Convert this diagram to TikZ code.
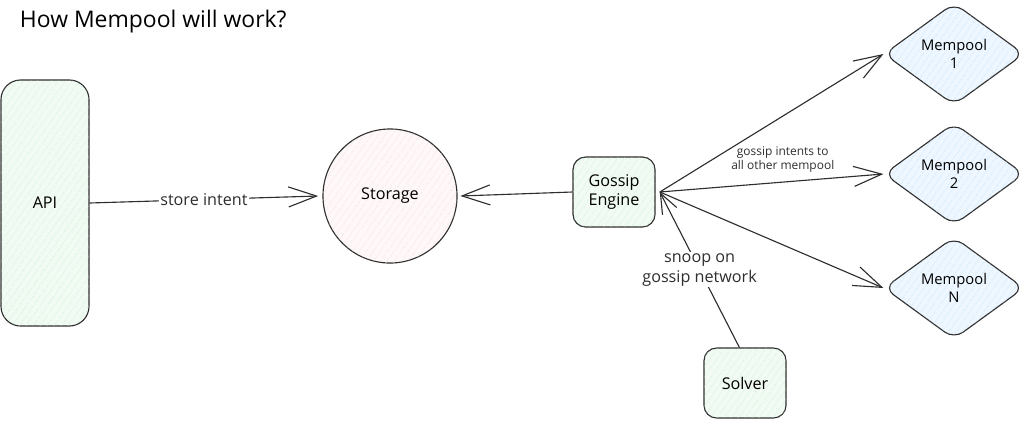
\documentclass[tikz,border=0pt]{standalone}
\usepackage{fontspec}
\setmainfont{Open Sans}
\usepackage{tikz}
\usetikzlibrary{arrows.meta, shapes.geometric, patterns.meta}
\definecolor{garis}{HTML}{2E2E2E}
\definecolor{hijaumuda}{HTML}{F1FBF3}
\definecolor{arsirhijau}{HTML}{C2ECCA}
\definecolor{merahmuda}{HTML}{FFF8F8}
\definecolor{arsirmerah}{HTML}{F3D6D6}
\definecolor{birumuda}{HTML}{EEF7FF}
\definecolor{arsirbiru}{HTML}{BADDF8}

\begin{document}
\begin{tikzpicture}[x=0.025cm, y=-0.025cm,
    font=\fontsize{11.5}{14}\selectfont,
    kotak/.style={draw=garis, line width=0.8pt, rounded corners=9pt, align=center,
                  fill=hijaumuda, minimum width=2.05cm, minimum height=1.75cm,
                  postaction={pattern={Lines[angle=55,distance=4pt,line width=0.4pt]}, pattern color=arsirhijau}},
    bulat/.style={draw=garis, line width=0.8pt, circle, minimum size=3.35cm, fill=merahmuda,
                  postaction={pattern={Lines[angle=55,distance=4pt,line width=0.4pt]}, pattern color=arsirmerah}},
    belah/.style={draw=garis, line width=0.8pt, diamond, rounded corners=8pt, align=center,
                  minimum width=3.5cm, minimum height=2.55cm, inner sep=0pt, fill=birumuda,
                  font=\fontsize{10.5}{13}\selectfont,
                  postaction={pattern={Lines[angle=55,distance=4pt,line width=0.4pt]}, pattern color=arsirbiru}},
    panah/.style={-{Straight Barb[length=7mm, width=5mm, line width=0.8pt]}, garis, line width=0.8pt},
    label/.style={fill=white, inner sep=1pt, align=center}
  ]
    \useasboundingbox (0,0) rectangle (1024,423);
    \node[anchor=west, font=\fontsize{16.3}{19}\selectfont] (judul) at (15,22) {How Mempool will work?};
    \node[kotak, rounded corners=14pt, minimum width=2.2cm, minimum height=6.15cm] (api) at (45,203) {API};
    \node[bulat] (sto) at (390,196) {Storage};
    \node[kotak] (eng) at (614,192) {Gossip\\Engine};
    \node[kotak] (sol) at (745,383) {Solver};
    \node[belah] (m1) at (954,54)  {Mempool\\1};
    \node[belah] (m2) at (954,174) {Mempool\\2};
    \node[belah] (mn) at (954,288) {Mempool\\N};
    \draw[panah] (api.east) -- node[label] {store intent} ([xshift=-3pt]sto.west);
    \draw[panah] (eng.west) -- ([xshift=2pt]sto.east);
    \draw[panah] ([xshift=3pt]eng.east) -- (m1.west);
    \draw[panah] ([xshift=3pt]eng.east) -- node[pos=0.55, above=3pt, font=\fontsize{8.5}{10}\selectfont, align=center] {gossip intents to\\all other mempool} (m2.west);
    \draw[panah] ([xshift=3pt]eng.east) -- (mn.west);
    \draw[panah, -{Straight Barb[length=5mm, width=4mm, line width=0.8pt]}] ([xshift=-4pt]sol.north) -- node[label] {snoop on\\gossip network} ([xshift=3pt]eng.east);
  \end{tikzpicture}
\end{document}
